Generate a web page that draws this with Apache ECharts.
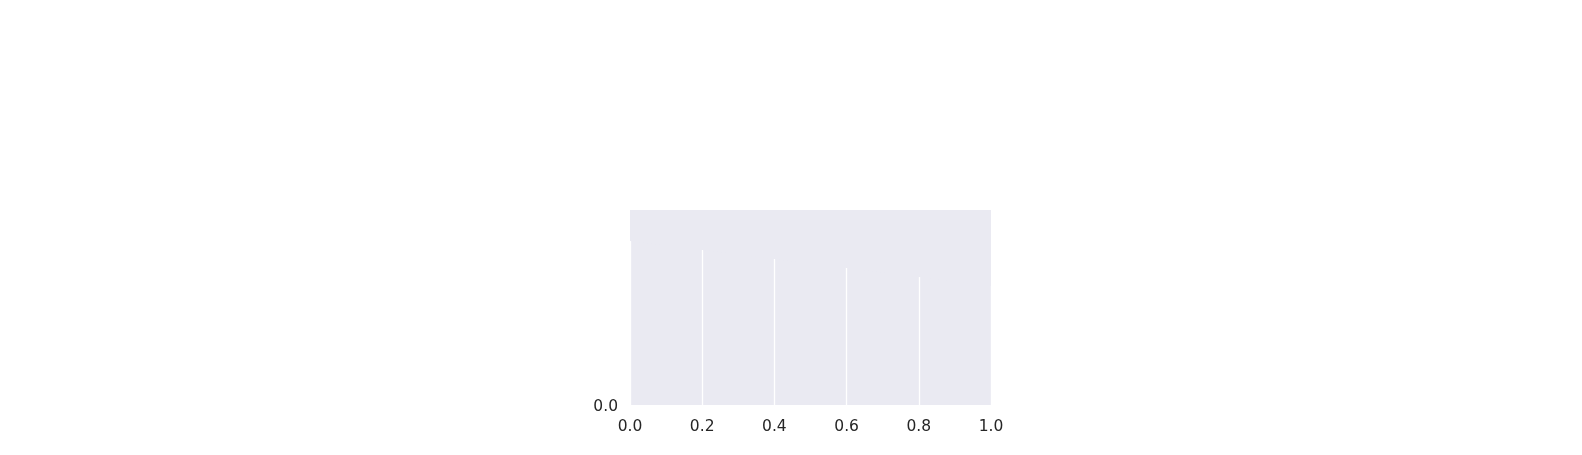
<!DOCTYPE html>
<html>
<head>
<meta charset="utf-8">
<script src="https://cdn.jsdelivr.net/npm/echarts@6/dist/echarts.min.js"></script>
<style>
  html, body { margin: 0; padding: 0; background: #ffffff; }
  #chart { width: 1582px; height: 455px; }
</style>
</head>
<body>
<div id="chart"></div>
<script>
    // data
    var xValues = [0, 1];
    var coverFrom = [0.841, 0.61];   // lower edge of the covering band
    var xTicks = [0, 0.2, 0.4, 0.6, 0.8, 1.0];
    var yTicks = [0];

    var bg = '#EAEAF2';
    var textColor = '#262626';

    var chart = echarts.init(document.getElementById('chart'));

    chart.setOption({
        animation: false,
        backgroundColor: '#ffffff',
        grid: {
            left: 630,
            top: 210,
            width: 361,
            height: 195,
            show: true,
            backgroundColor: bg,
            borderWidth: 0
        },
        xAxis: {
            type: 'value',
            min: xTicks[0],
            max: xTicks[xTicks.length - 1],
            interval: 0.2,
            axisLine: { show: false },
            axisTick: { show: false },
            axisLabel: {
                margin: 14,
                color: textColor,
                fontFamily: 'DejaVu Sans',
                fontSize: 15.5,
                formatter: function(v) { return v.toFixed(1); }
            },
            splitLine: { show: true, lineStyle: { color: '#ffffff', width: 1.3 } }
        },
        yAxis: {
            type: 'value',
            min: 0,
            max: 1,
            interval: 1,
            axisLine: { show: false },
            axisTick: { show: false },
            axisLabel: {
                margin: 12,
                color: textColor,
                fontFamily: 'DejaVu Sans',
                fontSize: 15.5,
                formatter: function(v) {
                    return yTicks.indexOf(v) >= 0 ? '{t|' + v.toFixed(1) + '}' : '';
                },
                rich: {
                    t: {
                        color: textColor,
                        fontFamily: 'DejaVu Sans',
                        fontSize: 15.5,
                        padding: [4, 0, 0, 0]
                    }
                }
            },
            splitLine: { show: false }
        },
        series: [{
            type: 'line',
            data: xValues.map(function(x, i) { return [x, coverFrom[i]]; }),
            symbol: 'none',
            silent: true,
            lineStyle: { width: 0 },
            areaStyle: { color: bg, opacity: 1, origin: 'end' },
            z: 3
        }]
    });
</script>
</body>
</html>
